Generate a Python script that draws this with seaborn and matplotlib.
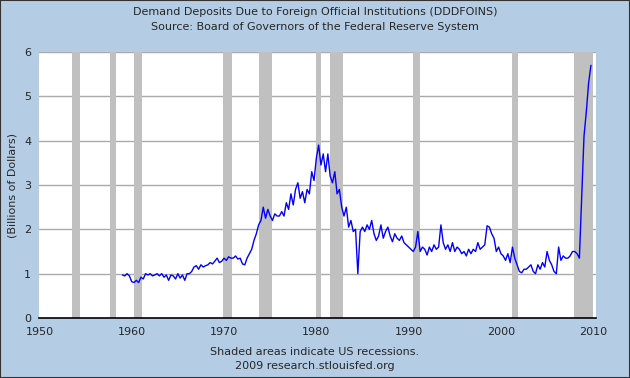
import matplotlib
matplotlib.use("Agg")
import matplotlib.pyplot as plt
import seaborn as sns
import numpy as np
import pandas as pd

# Quarterly values (billions of dollars), 1959Q1 .. 2009Q4
years = list(range(1959, 2010))
quarterly_values = [
    0.97, 0.95, 1.00, 0.95,   # 1959
    0.82, 0.80, 0.85, 0.80,   # 1960
    0.92, 0.88, 1.00, 0.97,   # 1961
    1.00, 0.95, 0.97, 1.00,   # 1962
    0.95, 1.00, 0.92, 0.97,   # 1963
    0.85, 0.97, 0.95, 0.88,   # 1964
    1.00, 0.90, 0.97, 0.85,   # 1965
    1.00, 1.00, 1.05, 1.15,   # 1966
    1.18, 1.10, 1.20, 1.15,   # 1967
    1.18, 1.20, 1.25, 1.22,   # 1968
    1.28, 1.35, 1.25, 1.28,   # 1969
    1.35, 1.30, 1.38, 1.35,   # 1970
    1.35, 1.40, 1.33, 1.35,   # 1971
    1.22, 1.20, 1.35, 1.45,   # 1972
    1.55, 1.75, 1.90, 2.10,   # 1973
    2.20, 2.50, 2.25, 2.45,   # 1974
    2.30, 2.20, 2.35, 2.30,   # 1975
    2.30, 2.40, 2.30, 2.60,   # 1976
    2.45, 2.80, 2.55, 2.90,   # 1977
    3.05, 2.70, 2.85, 2.60,   # 1978
    2.90, 2.80, 3.30, 3.10,   # 1979
    3.60, 3.90, 3.45, 3.70,   # 1980
    3.30, 3.70, 3.20, 3.05,   # 1981
    3.30, 2.80, 2.90, 2.50,   # 1982
    2.30, 2.50, 2.05, 2.20,   # 1983
    1.95, 2.00, 1.00, 1.95,   # 1984
    2.05, 1.95, 2.10, 2.00,   # 1985
    2.20, 1.90, 1.75, 1.85,   # 1986
    2.10, 1.80, 1.95, 2.05,   # 1987
    1.85, 1.72, 1.90, 1.80,   # 1988
    1.75, 1.85, 1.70, 1.65,   # 1989
    1.60, 1.55, 1.50, 1.60,   # 1990
    1.95, 1.50, 1.60, 1.55,   # 1991
    1.42, 1.60, 1.50, 1.65,   # 1992
    1.55, 1.60, 2.10, 1.70,   # 1993
    1.55, 1.65, 1.50, 1.70,   # 1994
    1.50, 1.60, 1.55, 1.45,   # 1995
    1.50, 1.40, 1.55, 1.45,   # 1996
    1.55, 1.50, 1.70, 1.55,   # 1997
    1.60, 1.65, 2.08, 2.05,   # 1998
    1.90, 1.80, 1.50, 1.60,   # 1999
    1.45, 1.40, 1.30, 1.45,   # 2000
    1.25, 1.60, 1.35, 1.20,   # 2001
    1.05, 1.02, 1.10, 1.10,   # 2002
    1.15, 1.20, 1.05, 1.00,   # 2003
    1.20, 1.10, 1.25, 1.15,   # 2004
    1.50, 1.30, 1.20, 1.05,   # 2005
    1.00, 1.60, 1.30, 1.40,   # 2006
    1.35, 1.35, 1.40, 1.50,   # 2007
    1.50, 1.45, 1.35, 2.70,   # 2008
    4.10, 4.65, 5.30, 5.70,   # 2009
]
quarters = [0.0, 0.25, 0.5, 0.75]

# NBER recessions (start, end) in decimal years
recession_starts = [1953.50, 1957.62, 1960.25, 1969.92, 1973.83, 1980.0, 1981.50, 1990.50, 2001.17, 2007.92]
recession_ends = [1954.37, 1958.29, 1961.12, 1970.87, 1975.21, 1980.54, 1982.87, 1991.21, 2001.87, 2009.95]

x_ticks = [1950, 1960, 1970, 1980, 1990, 2000, 2010]
y_ticks = [0, 1, 2, 3, 4, 5, 6]

title_lines = ["Demand Deposits Due to Foreign Official Institutions (DDDFOINS)",
               "Source: Board of Governors of the Federal Reserve System"]
footer_lines = ["Shaded areas indicate US recessions.", "2009 research.stlouisfed.org"]
y_label = "(Billions of Dollars)"

dates = [y + q for y in years for q in quarters]
df = pd.DataFrame({"date": dates, "value": quarterly_values})

sns.set_style("white")
plt.rcParams["font.family"] = ["DejaVu Sans"]

bg = "#B4CDE4"
fig = plt.figure(figsize=(6.3, 3.78), dpi=100, facecolor=bg)
ax = fig.add_axes([39.4 / 630, 1 - 318 / 378, (596 - 39.4) / 630, (318 - 52) / 378])
ax.set_facecolor("white")

for s, e in zip(recession_starts, recession_ends):
    ax.axvspan(s, e, color="#C0C0C0", lw=0, zorder=1)

for yv in y_ticks[1:]:
    ax.axhline(yv, color="#AAAAAA", lw=1, zorder=0.5)

sns.lineplot(data=df, x="date", y="value", ax=ax, color="#0000FF", lw=1, zorder=3)

ax.set_xlim(1950, 2010.3)
ax.set_ylim(0, 6)
ax.set_xticks(x_ticks)
ax.set_yticks(y_ticks)
ax.set_xticklabels([str(t) for t in x_ticks], fontsize=8)
ax.set_yticklabels([str(t) for t in y_ticks], fontsize=8)
ax.tick_params(axis="x", direction="out", length=5, width=1, color="black", pad=1.5)
ax.tick_params(axis="y", direction="out", length=0, pad=6)
ax.set_xlabel("")
ax.set_ylabel("")
for side in ["top", "right", "left"]:
    ax.spines[side].set_visible(False)
ax.spines["bottom"].set_color("black")
ax.spines["bottom"].set_linewidth(1.2)
ax.grid(False)

fig.text(0.5, 1 - 12 / 378, title_lines[0], ha="center", va="center", fontsize=8)
fig.text(0.5, 1 - 27 / 378, title_lines[1], ha="center", va="center", fontsize=8)
fig.text(0.5, 1 - 352 / 378, footer_lines[0], ha="center", va="center", fontsize=8)
fig.text(0.5, 1 - 366 / 378, footer_lines[1], ha="center", va="center", fontsize=8)
fig.text(13 / 630, 1 - 185 / 378, y_label, ha="center", va="center", rotation=90, fontsize=8)

border = plt.Rectangle((0, 0), 1, 1, transform=fig.transFigure, fill=False,
                       edgecolor="#333333", lw=1.5)
fig.patches.append(border)

fig.savefig("out.png", dpi=100, facecolor=bg)
